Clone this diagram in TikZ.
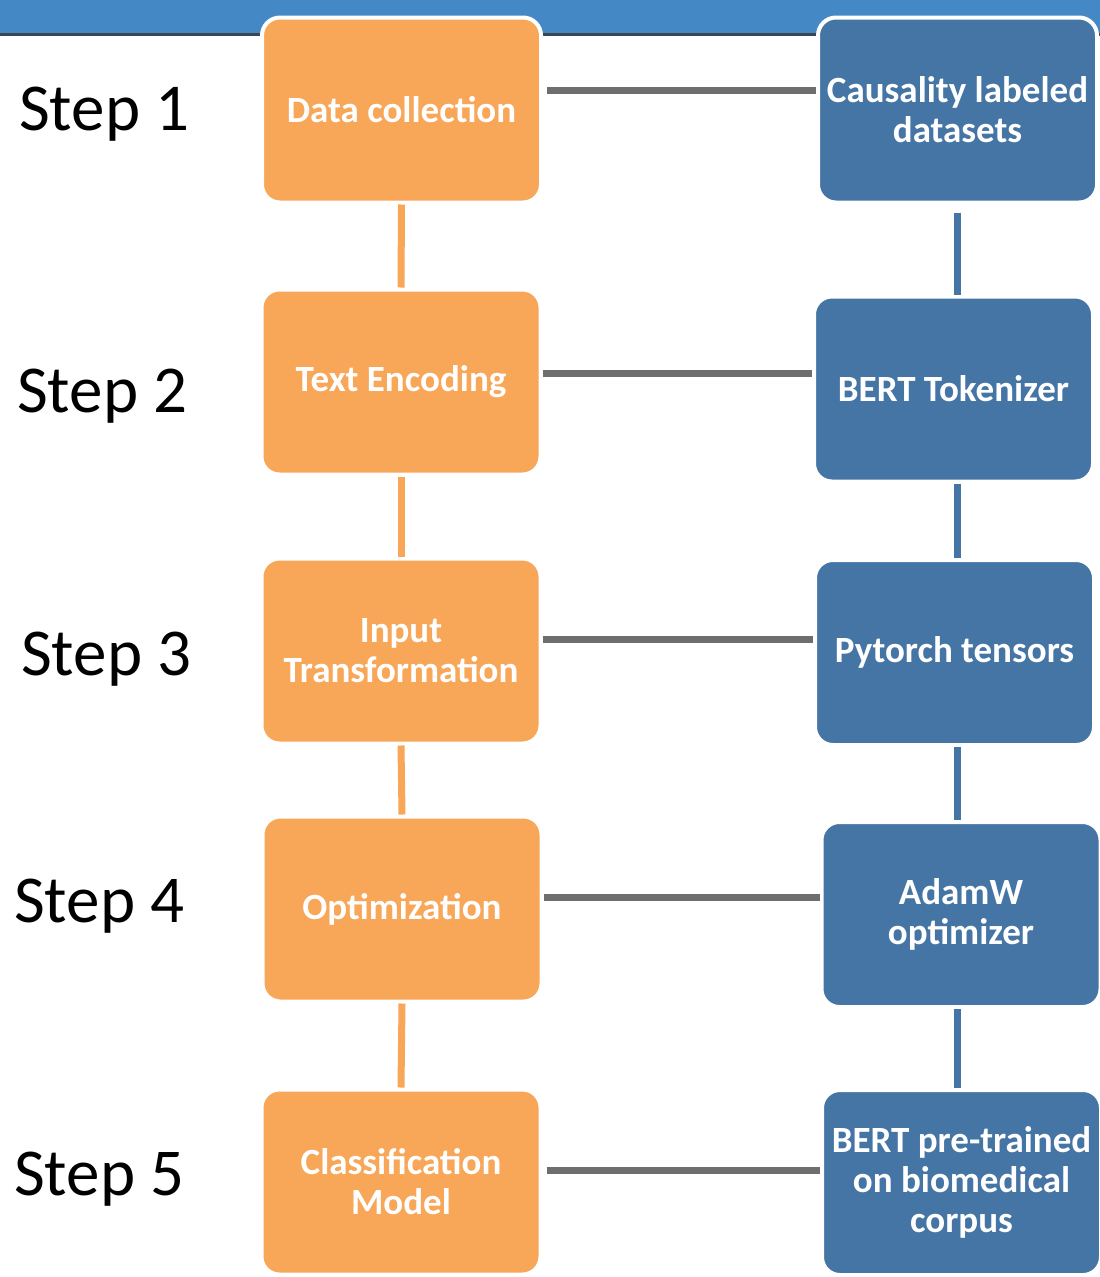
\documentclass[tikz,border=0pt]{standalone}
\usepackage{fontspec}
\setmainfont{Carlito}
\usetikzlibrary{calc}
\definecolor{barblue}{RGB}{68,137,198}
\definecolor{barline}{RGB}{58,70,84}
\definecolor{stepor}{RGB}{248,166,87}
\definecolor{toolbl}{RGB}{69,117,165}
\definecolor{linkgr}{RGB}{110,110,110}
\tikzset{
  box/.style={rectangle, rounded corners=18pt, draw=white, line width=4pt,
    minimum width=279pt, minimum height=185pt, inner sep=0pt,
    text=white, align=center, font=\bfseries\fontsize{37}{40}\selectfont},
  stagebox/.style={box, fill=stepor},
  toolbox/.style={box, fill=toolbl},
  steplabel/.style={anchor=west, inner sep=0pt, font=\fontsize{67}{72}\selectfont},
  orlink/.style={draw=stepor, line width=7pt},
  bllink/.style={draw=toolbl, line width=7pt},
  grlink/.style={draw=linkgr, line width=7pt},
}
\begin{document}
\begin{tikzpicture}[x=1pt,y=-1pt]
\useasboundingbox (0,0) rectangle (1100,1277);
% header band
\fill[barblue] (0,0) rectangle (1100,33);
\fill[barline] (0,33) rectangle (1100,35.5);

% step labels
\node[steplabel] (s1) at (19,114) {Step 1};
\node[steplabel] (s2) at (17,396) {Step 2};
\node[steplabel] (s3) at (21,659) {Step 3};
\node[steplabel] (s4) at (14,906) {Step 4};
\node[steplabel] (s5) at (14,1179) {Step 5};

% pipeline stages
\node[stagebox] (o1) at (401.5,110) {Data collection};
\node[stagebox] (o2) at (401,382) {Text Encoding};
\node[stagebox] (o3) at (401,651) {Input\\Transformation};
\node[stagebox] (o4) at (402,909) {Optimization};
\node[stagebox] (o5) at (401,1182) {Classification\\Model};

% tools used at each stage
\node[toolbox] (b1) at (957.5,110) {Causality labeled\\datasets};
\node[toolbox] (b2) at (953.5,389) {BERT Tokenizer};
\node[toolbox] (b3) at (954.5,652.5) {Pytorch tensors};
\node[toolbox] (b4) at (961,914.5) {AdamW\\optimizer};
\node[toolbox] (b5) at (961.5,1182.5) {BERT pre-trained\\on biomedical\\corpus};

% vertical flow between stages
\draw[orlink] (o1.south) -- (o2.north);
\draw[orlink] (o2.south) -- (o3.north);
\draw[orlink] (o3.south) -- (o4.north);
\draw[orlink] (o4.south) -- (o5.north);

% vertical flow between tools
\draw[bllink, shorten <=8pt] (b1.south -| 957,0) -- (b2.north -| 957,0);
\draw[bllink] (b2.south -| 957,0) -- (b3.north -| 957,0);
\draw[bllink] (b3.south -| 957,0) -- (b4.north -| 957,0);
\draw[bllink] (b4.south -| 957,0) -- (b5.north -| 957,0);

% stage-to-tool links
\draw[grlink] (o1.east |- 0,90) ++(4,0) -- (b1.west |- 0,90);
\draw[grlink] (o2.east |- 0,373) -- (b2.west |- 0,373);
\draw[grlink] (o3.east |- 0,639) -- (b3.west |- 0,639);
\draw[grlink] (o4.east |- 0,897) -- (b4.west |- 0,897);
\draw[grlink] (o5.east |- 0,1170) ++(4,0) -- (b5.west |- 0,1170);
\end{tikzpicture}
\end{document}
